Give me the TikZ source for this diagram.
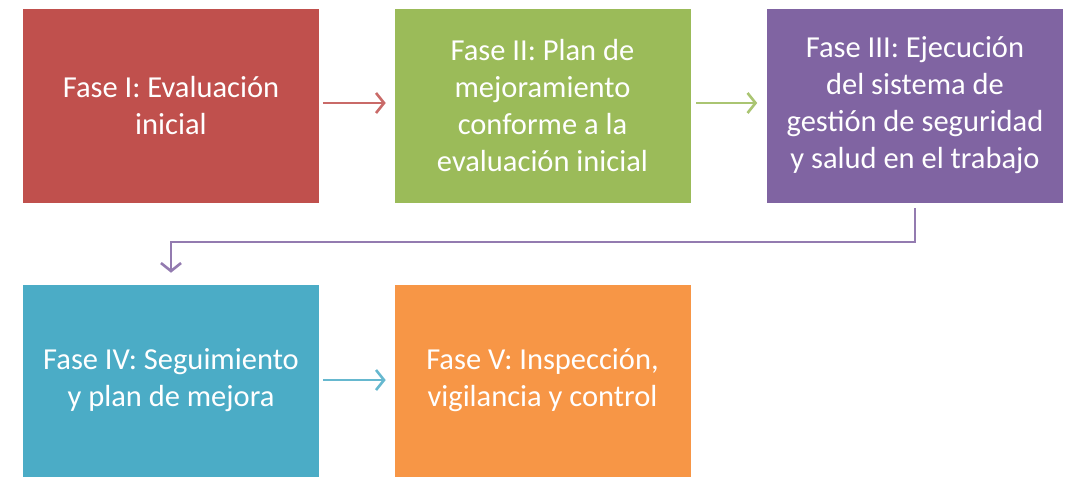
\documentclass[tikz,border=0pt]{standalone}
\usepackage{fontspec}
\setmainfont{Carlito}
\usetikzlibrary{arrows.meta}

\definecolor{rojo}{HTML}{C0504D}
\definecolor{verde}{HTML}{9BBB59}
\definecolor{morado}{HTML}{8064A2}
\definecolor{azul}{HTML}{4BACC6}
\definecolor{naranja}{HTML}{F79646}

\tikzset{
	fase/.style = {rectangle, fill = #1, draw = white, line width = 0.6pt, text = white,
		minimum width = 297pt, minimum height = 195pt, align = center,
		inner sep = 0pt, font = \fontsize{30.5}{37}\selectfont},
	flecha/.style = {draw = #1!85!white, line width = 2.6pt,
		-{Straight Barb[length = 8pt, width = 20pt, line width = 2.6pt]}}
}

\begin{document}
\begin{tikzpicture}[x = 1pt, y = -1pt]
			\useasboundingbox (0,0) rectangle (1071,477);
			
			\node[fase = rojo] (f1) at (171,105.5) {Fase I: Evaluación\\ inicial};
			\node[fase = verde] (f2) at (542.5,105.5) {Fase II: Plan de\\ mejoramiento\\ conforme a la\\ evaluación inicial};
			\node[fase = morado] (f3) at (915,105.5) {Fase III: Ejecución\\ del sistema de\\ gestión de seguridad\\ y salud en el trabajo};
			\node[fase = azul, minimum height = 193pt] (f4) at (171,380.5) {Fase IV: Seguimiento\\ y plan de mejora};
			\node[fase = naranja, minimum height = 193pt] (f5) at (542.5,380.5) {Fase V: Inspección,\\ vigilancia y control};
			
			\draw[flecha = rojo, shorten < = 3pt, shorten > = 8pt] (f1.east |- 0,103) -- (f2.west |- 0,103);
			\draw[flecha = verde, shorten < = 5pt, shorten > = 9pt] (f2.east |- 0,103) -- (f3.west |- 0,103);
			\draw[flecha = morado, line width = 2pt, shorten < = 5pt, shorten > = 11pt] (f3.south) -- ++(0,39) -| (f4.north);
			\draw[flecha = azul, shorten < = 3pt, shorten > = 8pt] (f4.east |- 0,380) -- (f5.west |- 0,380);
		\end{tikzpicture}
\end{document}
